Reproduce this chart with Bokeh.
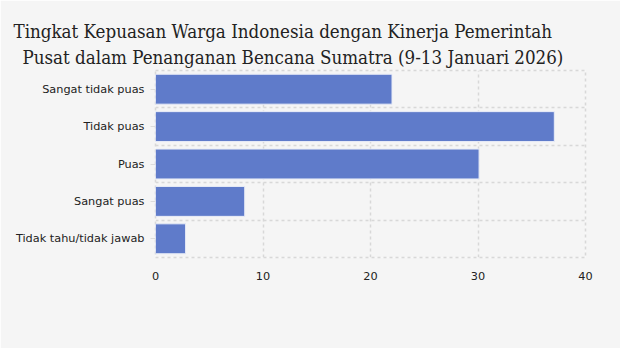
from bokeh.plotting import figure
from bokeh.models import FixedTicker, ColumnDataSource, Title
from bokeh.embed import file_html
from bokeh.resources import INLINE

title_lines = ["Tingkat Kepuasan Warga Indonesia dengan Kinerja Pemerintah",
               "Pusat dalam Penanganan Bencana Sumatra (9-13 Januari 2026)"]
categories = ["Sangat tidak puas", "Tidak puas", "Puas", "Sangat puas", "Tidak tahu/tidak jawab"]
values = [22.0, 37.1, 30.1, 8.3, 2.8]
x_ticks = [0, 10, 20, 30, 40]

n = len(categories)
ypos = [n - 1 - i for i in range(n)]
src = ColumnDataSource(dict(y=ypos, v=values, c=categories))

p = figure(frame_width=430, frame_height=187, output_backend="svg", toolbar_location=None,
           x_range=(0, 40), y_range=(-0.5, n - 0.5),
           min_border_left=155, min_border_right=35, min_border_top=70, min_border_bottom=91)
p.background_fill_color = "#f5f5f5"
p.border_fill_color = "#f5f5f5"
p.outline_line_color = "#d8d8d8"
p.outline_line_dash = "3 3"
p.outline_line_width = 1.5
p.title = None

offsets = [-142, -133]
standoffs = [0, 6]
for line, off, so in reversed(list(zip(title_lines, offsets, standoffs))):
    t = Title(text=line, align="left", offset=off, text_font="DejaVu Serif Condensed",
              text_font_size="18.6px", text_font_style="normal", text_color="#222222",
              standoff=so)
    p.add_layout(t, "above")

p.hbar(y="y", right="v", left=0, height=0.8, source=src,
       fill_color="#5f7bca", line_color="#e8ecf7", line_width=1)

p.xaxis.ticker = FixedTicker(ticks=x_ticks)
p.yaxis.ticker = FixedTicker(ticks=ypos)
p.yaxis.major_label_overrides = {y: c for y, c in zip(ypos, categories)}
p.xgrid.ticker = FixedTicker(ticks=x_ticks)
p.ygrid.ticker = FixedTicker(ticks=[k - 0.5 for k in range(n + 1)])
for g in (p.xgrid, p.ygrid):
    g.grid_line_color = "#d8d8d8"
    g.grid_line_dash = "3 3"
    g.grid_line_width = 1.5

for ax in (p.xaxis, p.yaxis):
    ax.axis_line_color = None
    ax.minor_tick_line_color = None
    ax.major_label_text_font = "DejaVu Sans"
    ax.major_label_text_font_size = "11.3px"
    ax.major_label_text_color = "#222222"
p.xaxis.major_tick_line_color = None
p.xaxis.major_label_standoff = 8
p.yaxis.major_tick_line_color = "#dcdcdc"
p.yaxis.major_tick_out = 5
p.yaxis.major_tick_in = 0
p.yaxis.major_label_standoff = 6

open("out.html", "w").write(file_html(p, INLINE))
